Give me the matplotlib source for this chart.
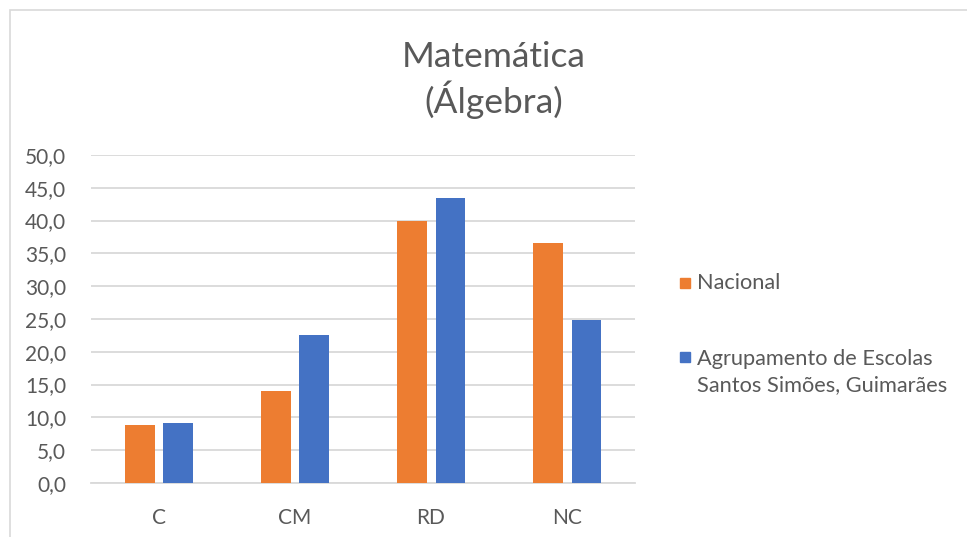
import matplotlib.pyplot as plt
from matplotlib.patches import Rectangle
import numpy as np

# Data
categories = ["C", "CM", "RD", "NC"]
nacional = [8.9, 14.0, 40.0, 36.6]
agrupamento = [9.2, 22.5, 43.4, 24.8]
series_labels = ["Nacional", "Agrupamento de Escolas\nSantos Simões, Guimarães"]
yticks = np.arange(0, 50.1, 5)

ORANGE = "#ED7D31"
BLUE = "#4472C4"
TEXT = "#595959"
GRID = "#D9D9D9"

plt.rcParams['font.family'] = ['Lato', 'DejaVu Sans']

fig = plt.figure(figsize=(9.67, 5.37), dpi=100)
# Outer chart border (only top and left edges fall inside the picture)
fig.patches.append(Rectangle((10 / 967, -0.05), 1.0, 1.05 - 10 / 537, transform=fig.transFigure,
                             fill=False, edgecolor=GRID, linewidth=1.2))

ax = fig.add_axes([0.0941, 0.1006, 0.5626, 0.6108])
x = np.arange(len(categories))
w = 0.22
off = 0.143
ax.bar(x - off, nacional, w, color=ORANGE, label=series_labels[0], zorder=3)
ax.bar(x + off, agrupamento, w, color=BLUE, label=series_labels[1], zorder=3)

ax.set_xlim(-0.5, len(categories) - 0.5)
ax.set_ylim(0, 50)
ax.set_yticks(yticks)
ax.set_yticklabels([f"{v:.1f}".replace(".", ",") for v in yticks])
ax.set_xticks(x)
ax.set_xticklabels(categories)
ax.tick_params(axis='y', length=0, pad=18, labelsize=15, labelcolor=TEXT)
ax.tick_params(axis='x', length=0, pad=18, labelsize=15, labelcolor=TEXT)
ax.grid(axis='y', color=GRID, linewidth=1.3, zorder=0)
for s in ["top", "right", "left"]:
    ax.spines[s].set_visible(False)
ax.spines["bottom"].set_color(GRID)
ax.spines["bottom"].set_linewidth(1.3)

fig.text(494 / 967, 1 - 80 / 537, "Matemática\n(Álgebra)", ha='center', va='center',
         fontsize=25.5, color=TEXT, linespacing=1.25)

# Legend drawn by hand to match the layout
for yc, col, lab, va_y in [(283, ORANGE, series_labels[0], 283),
                          (357, BLUE, series_labels[1], 372)]:
    fig.patches.append(Rectangle((680 / 967, 1 - (yc + 5) / 537), 10 / 967, 10 / 537,
                                 transform=fig.transFigure, color=col))
    fig.text(697 / 967, 1 - va_y / 537, lab, ha='left', va='center', fontsize=15.7,
             color=TEXT, linespacing=1.35)

fig.savefig("out.png", dpi=100)
